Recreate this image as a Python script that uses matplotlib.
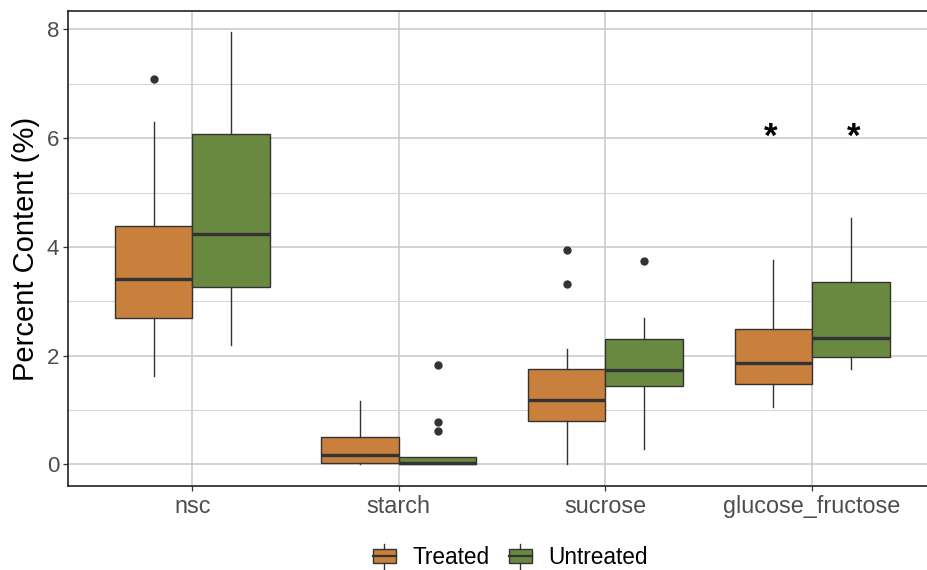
import matplotlib
matplotlib.use("Agg")
import matplotlib.pyplot as plt
from matplotlib.legend_handler import HandlerBase
from matplotlib.patches import Rectangle
from matplotlib.lines import Line2D
from matplotlib.ticker import MultipleLocator

plt.rcParams['font.family'] = ['Liberation Sans', 'DejaVu Sans']

categories = ["nsc", "starch", "sucrose", "glucose_fructose"]
groups = ["Treated", "Untreated"]

# box statistics (per category)
treated_whislo = [1.62, 0.00, 0.00, 1.05]
treated_q1     = [2.69, 0.02, 0.80, 1.48]
treated_med    = [3.41, 0.17, 1.18, 1.86]
treated_q3     = [4.39, 0.50, 1.75, 2.49]
treated_whishi = [6.29, 1.17, 2.12, 3.76]
treated_fliers = [[7.08], [], [3.94, 3.31], []]

untreated_whislo = [2.20, 0.00, 0.28, 1.76]
untreated_q1     = [3.27, 0.00, 1.44, 1.98]
untreated_med    = [4.24, 0.02, 1.74, 2.33]
untreated_q3     = [6.07, 0.13, 2.31, 3.35]
untreated_whishi = [7.96, 0.14, 2.70, 4.54]
untreated_fliers = [[], [1.83, 0.78, 0.61], [3.74], []]

signif_category = "glucose_fructose"
signif_label = "*"
signif_y = 6.02

colors = {"Treated": "#C8803C", "Untreated": "#6A8940"}
line_col = "#333333"

fig = plt.figure(figsize=(9.27, 5.70), dpi=100)
ax = fig.add_axes([68.3 / 927, 1 - 486 / 570, (936 - 68.3) / 927, (486 - 11) / 570])

box_w = 0.375
offsets = {"Treated": -box_w / 2, "Untreated": box_w / 2}
signif_offsets = {"Treated": -0.2, "Untreated": 0.2}
data = {
    "Treated": (treated_whislo, treated_q1, treated_med, treated_q3, treated_whishi, treated_fliers),
    "Untreated": (untreated_whislo, untreated_q1, untreated_med, untreated_q3, untreated_whishi, untreated_fliers),
}

for g in groups:
    wl, q1, md, q3, wh, fl = data[g]
    stats = []
    for i in range(len(categories)):
        stats.append(dict(whislo=wl[i], q1=q1[i], med=md[i], q3=q3[i], whishi=wh[i], fliers=fl[i]))
    pos = [i + offsets[g] for i in range(len(categories))]
    ax.bxp(stats, positions=pos, widths=box_w, patch_artist=True, showcaps=False,
           boxprops=dict(facecolor=colors[g], edgecolor=line_col, linewidth=1.0),
           medianprops=dict(color=line_col, linewidth=2.4, solid_capstyle='butt'),
           whiskerprops=dict(color=line_col, linewidth=1.0),
           flierprops=dict(marker='o', markerfacecolor=line_col, markeredgecolor=line_col,
                           markersize=5, linestyle='none'),
           manage_ticks=False, zorder=3)

ci = categories.index(signif_category)
for g in groups:
    ax.text(ci + signif_offsets[g], signif_y, signif_label, ha='center', va='center',
            fontsize=25, fontweight='bold', color='black', zorder=4)

ax.set_xlim(-0.6, len(categories) - 1 + 0.6)
ax.set_ylim(-0.40, 8.34)
ax.set_xticks(range(len(categories)))
ax.set_xticklabels(categories)
ax.yaxis.set_major_locator(MultipleLocator(2))
ax.yaxis.set_minor_locator(MultipleLocator(1))

ax.grid(True, which='major', color='#C8C8C8', linewidth=1.1, zorder=0)
ax.grid(True, which='minor', axis='y', color='#D6D6D6', linewidth=0.8, zorder=0)
ax.set_axisbelow(True)

for s in ['left', 'bottom', 'top']:
    ax.spines[s].set_color('#222222')
    ax.spines[s].set_linewidth(1.2)
ax.spines['right'].set_visible(False)

ax.tick_params(axis='both', which='major', length=3.5, width=0.9, color='#333333',
               labelcolor='#4D4D4D', pad=3)
ax.tick_params(axis='x', labelsize=16.8)
ax.tick_params(axis='y', labelsize=16)
ax.tick_params(axis='y', which='minor', length=0)
ax.set_ylabel("Percent Content (%)", fontsize=21, color='black', labelpad=5)


class BoxKeyHandler(HandlerBase):
    def __init__(self, color):
        super().__init__()
        self.color = color

    def create_artists(self, legend, orig_handle, xdescent, ydescent, width, height, fontsize, trans):
        cx = width / 2 - xdescent
        rect = Rectangle((-xdescent, -ydescent + height * 0.15), width, height * 0.75,
                         facecolor=self.color, edgecolor=line_col, linewidth=1.0, transform=trans)
        mid = -ydescent + height * 0.525
        med = Line2D([-xdescent, -xdescent + width], [mid, mid], color=line_col, linewidth=1.6, transform=trans)
        w1 = Line2D([cx, cx], [-ydescent - height * 0.15, -ydescent + height * 0.15], color=line_col,
                    linewidth=1.0, transform=trans)
        w2 = Line2D([cx, cx], [-ydescent + height * 0.9, -ydescent + height * 1.15], color=line_col,
                    linewidth=1.0, transform=trans)
        return [rect, med, w1, w2]


handles = [Rectangle((0, 0), 1, 1, label=g) for g in groups]
handler_map = {handles[i]: BoxKeyHandler(colors[g]) for i, g in enumerate(groups)}
fig.legend(handles=handles, labels=groups, handler_map=handler_map, loc='center',
           bbox_to_anchor=(510.5 / 927, 1 - 558 / 570), ncol=2, frameon=False,
           fontsize=16.3, handlelength=1.0, handleheight=0.9, handletextpad=0.75, columnspacing=0.85)

fig.savefig("out.png", dpi=100)
